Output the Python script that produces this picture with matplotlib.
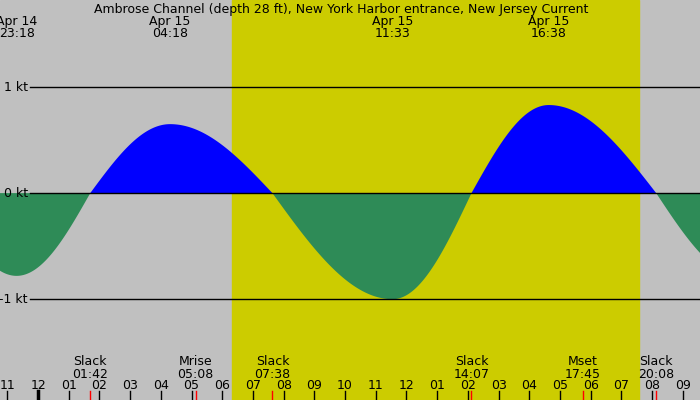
import numpy as np
import matplotlib
matplotlib.use("Agg")
import matplotlib.pyplot as plt

# events: hours after midnight Apr 15, speed in knots
event_hours = [-0.70, 1.70, 4.30, 7.633, 11.55, 14.117, 16.633, 20.133, 23.0]
event_speeds = [-0.78, 0.0, 0.65, 0.0, -1.00, 0.0, 0.83, 0.0, -0.80]
top_labels = [("Apr 14", "23:18", -0.70), ("Apr 15", "04:18", 4.30),
              ("Apr 15", "11:33", 11.55), ("Apr 15", "16:38", 16.633)]
bottom_labels = [("Slack", "01:42", 1.70), ("Mrise", "05:08", 5.133), ("Slack", "07:38", 7.633),
                 ("Slack", "14:07", 14.117), ("Mset", "17:45", 17.75), ("Slack", "20:08", 20.133)]
hour_ticks = list(range(-1, 22))
hour_names = ["11", "12", "01", "02", "03", "04", "05", "06", "07", "08", "09", "10", "11",
              "12", "01", "02", "03", "04", "05", "06", "07", "08", "09"]
sunrise, sunset = 6.32, 19.58
title = "Ambrose Channel (depth 28 ft), New York Harbor entrance, New Jersey Current"

# curve from quarter-sine segments between events
t = np.linspace(-1.3, 21.7, 2000)
v = np.zeros_like(t)
for i in range(len(event_hours) - 1):
    t0, t1 = event_hours[i], event_hours[i + 1]
    v0, v1 = event_speeds[i], event_speeds[i + 1]
    m = (t >= t0) & (t <= t1)
    f = (t[m] - t0) / (t1 - t0)
    if v0 == 0:
        v[m] = v1 * np.sin(np.pi / 2 * f)
    else:
        v[m] = v0 * np.cos(np.pi / 2 * f)
m = t < event_hours[0]
span = event_hours[1] - event_hours[0]
v[m] = event_speeds[0] * np.cos(np.pi / 2 * (event_hours[0] - t[m]) / span)

fig = plt.figure(figsize=(7, 4), dpi=100)
ax = fig.add_axes([0, 0, 1, 1])
x0, x1 = -1.24, 21.56
y0, y1 = -1.95, 1.82
ax.set_xlim(x0, x1)
ax.set_ylim(y0, y1)
ax.axis("off")
ax.axvspan(x0, x1, color="#c0c0c0", zorder=0)
ax.axvspan(sunrise, sunset, color="#cccc00", zorder=0)
ax.fill_between(t, 0, v, where=v >= 0, color="#0000ff", lw=0, zorder=2)
ax.fill_between(t, 0, v, where=v <= 0, color="#2e8b57", lw=0, zorder=2)

xstart = x0 + (x1 - x0) * 30 / 700
for k, lab in zip([1, 0, -1], ["1 kt", "0 kt", "-1 kt"]):
    ax.plot([xstart, x1], [k, k], color="black", lw=1, zorder=3)
    ax.text(x0 + (x1 - x0) * 28 / 700, k, lab, ha="right", va="center", fontsize=9, zorder=4)

fs = 9
ax.text((x0 + x1) / 2 - 0.3, 1.79, title, ha="center", va="top", fontsize=fs)
for d, tm, h in top_labels:
    ax.text(h, 1.68, d + "\n" + tm, ha="center", va="top", fontsize=fs, linespacing=0.95)
for n, tm, h in bottom_labels:
    ax.text(h, -1.53, n + "\n" + tm, ha="center", va="top", fontsize=fs, linespacing=1.0)

dy = 1 / 106.0
for h, nm in zip(hour_ticks, hour_names):
    ax.text(h, -1.81, nm, ha="center", va="center", fontsize=fs)
    lw = 2.5 if h == 0 else 1
    ax.plot([h, h], [y0, y0 + 9 * dy], color="black", lw=lw, zorder=3)
for n, tm, h in bottom_labels:
    ax.plot([h, h], [y0, y0 + 9 * dy], color="red", lw=1, zorder=3)

fig.savefig("out.png", dpi=100)
